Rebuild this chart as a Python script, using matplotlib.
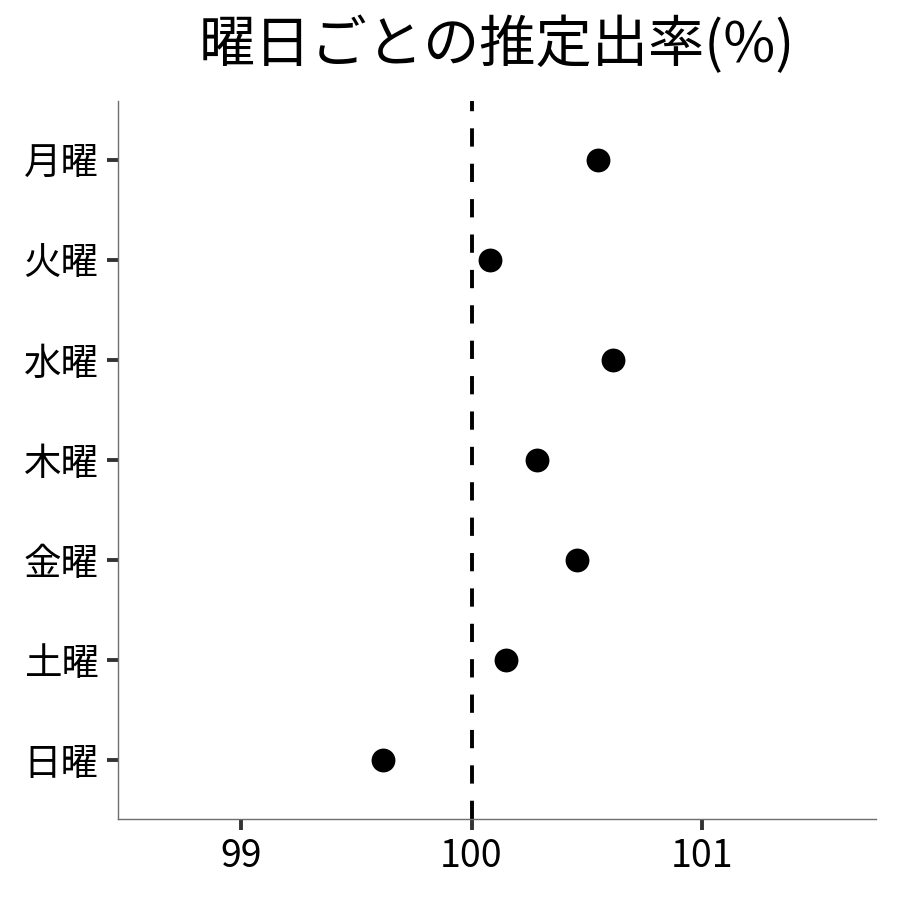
import matplotlib
matplotlib.use("Agg")
import matplotlib.pyplot as plt

plt.rcParams['font.family'] = ['Noto Sans CJK JP', 'DejaVu Sans']

days = ['月曜', '火曜', '水曜', '木曜', '金曜', '土曜', '日曜']
rates = [100.547, 100.082, 100.612, 100.282, 100.456, 100.148, 99.614]
xticks = [99, 100, 101]
title = '曜日ごとの推定出率(%)'

fig = plt.figure(figsize=(9, 9), dpi=100)
ax = fig.add_axes([0.1311, 0.09, 0.9733 - 0.1311, 0.8878 - 0.09])

ypos = list(range(len(days)))[::-1]
ax.axvline(100, color='black', lw=2.8, linestyle=(0, (4.7, 4.4)), zorder=1)
ax.scatter(rates, ypos, s=295, color='black', zorder=3, linewidths=0)

ax.set_xlim(98.466, 101.755)
ax.set_ylim(-0.59, len(days) - 1 + 0.59)
ax.set_yticks(ypos)
ax.set_yticklabels(days)
ax.set_xticks(xticks)
ax.set_xticklabels([str(x) for x in xticks])

for s in ['top', 'right']:
    ax.spines[s].set_visible(False)
for s in ['left', 'bottom']:
    ax.spines[s].set_color('#6e6e6e')
    ax.spines[s].set_linewidth(1.0)

ax.tick_params(axis='both', length=8, width=2.8, color='#333333', labelsize=27, labelcolor='black')
ax.tick_params(axis='y', pad=6)
ax.tick_params(axis='x', pad=5)

ax.set_title(title, fontsize=40.5, pad=28)

fig.savefig('out.png', dpi=100, facecolor='white')
